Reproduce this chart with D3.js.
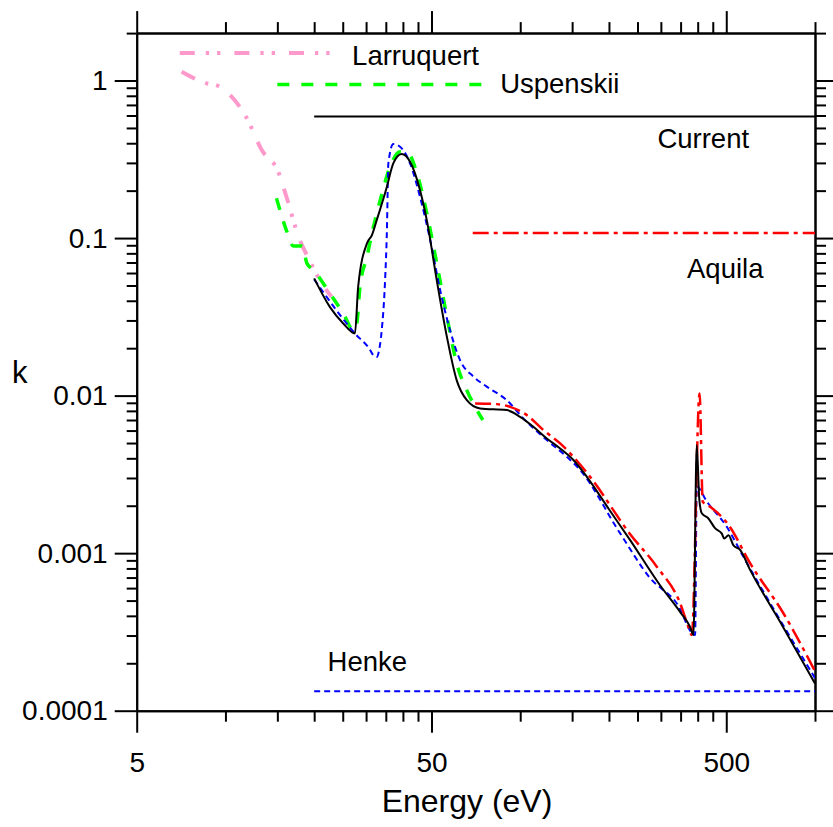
<!DOCTYPE html>
<html><head><meta charset="utf-8">
<script src="https://cdn.jsdelivr.net/npm/d3@7"></script>
<style>
body{margin:0;background:#fff}
svg{display:block}
text{font-family:"Liberation Sans",Arial,Helvetica,sans-serif;fill:#000}
</style>
</head><body>
<svg id="chart" width="833" height="827"></svg>
<script>
// ---------- data (Energy in eV, k dimensionless) ----------
const currentE = [20, 22.6, 25.1, 27.5, 28.2, 30.2, 31.4, 32.6, 35.3, 37.1, 39.6, 42.3, 45.7, 48.2, 52.1, 56.4, 60.9, 65.9, 73.1, 90, 99.9, 110.8, 123.1, 136.6, 151.5, 168.3, 200, 236, 298, 349, 377, 387, 397, 405, 413, 435, 458, 483, 492, 509, 529, 557, 603, 780, 1000];
const currentK = [0.0555, 0.0366, 0.0287, 0.0248, 0.0491, 0.0925, 0.1045, 0.130, 0.212, 0.298, 0.342, 0.305, 0.202, 0.130, 0.0541, 0.0236, 0.0125, 0.00936, 0.00829, 0.00809, 0.00733, 0.00634, 0.00535, 0.00462, 0.0039, 0.00305, 0.0019, 0.00121, 0.000626, 0.000422, 0.00034, 0.000302, 0.00485, 0.0022, 0.00179, 0.00166, 0.00144, 0.00133, 0.00124, 0.0013, 0.00112, 0.00105, 0.00078, 0.000339, 0.000149];

const henkeE = [20, 27.5, 30.95, 31.7, 32.6, 33.3, 33.9, 34.8, 35.3, 35.7, 37.1, 39.1, 42.3, 45.7, 49.5, 53.5, 57.8, 62.5, 69.4, 77, 90, 102.5, 123.1, 143.9, 159.7, 218, 276, 340, 392, 397, 430, 502, 572, 1000];
const henkeK = [0.0547, 0.0248, 0.0195, 0.0181, 0.0176, 0.0200, 0.026, 0.0541, 0.112, 0.298, 0.395, 0.380, 0.298, 0.183, 0.0971, 0.0468, 0.026, 0.0168, 0.0132, 0.0114, 0.00936, 0.00717, 0.00522, 0.00409, 0.00337, 0.00134, 0.000694, 0.000479, 0.000302, 0.00264, 0.00212, 0.00147, 0.000947, 0.000161];

const aquilaE = [70.3, 83.3, 92.4, 105.3, 119.9, 136.6, 151.5, 172.6, 236, 291, 349, 372, 382, 406, 416, 441, 509, 603, 782, 1000];
const aquilaK = [0.00892, 0.00883, 0.00849, 0.00752, 0.00604, 0.00497, 0.00409, 0.00305, 0.00132, 0.000818, 0.000479, 0.00034, 0.000302, 0.01033, 0.00212, 0.00197, 0.00151, 0.00086, 0.000414, 0.000178];

const uspenskiiE = [14.9, 16.1, 17.0, 18.2, 18.9, 19.9, 22.6, 25.1, 27.2, 27.9, 28.6, 30.2, 31.4, 33.5, 36.2, 39.1, 41.7, 44.6, 48.2, 52.1, 56.4, 60.9, 65.9, 70.3, 74.7];
const uspenskiiK = [0.179, 0.112, 0.089, 0.089, 0.0691, 0.0626, 0.0446, 0.0333, 0.026, 0.0287, 0.0491, 0.0761, 0.107, 0.174, 0.284, 0.353, 0.345, 0.258, 0.144, 0.0691, 0.0317, 0.016, 0.0108, 0.00849, 0.0070];

const larruquertE = [7.1, 8.64, 9.46, 10.37, 11.81, 13.28, 15.1, 16.1, 17.7, 19.4, 20.9, 22.9];
const larruquertK = [1.137, 0.96, 0.923, 0.809, 0.578, 0.362, 0.264, 0.183, 0.102, 0.0707, 0.0541, 0.0424];

// data ranges of each source (shown as range bars with labels)
const seriesNames = ["Larruquert", "Uspenskii", "Current", "Aquila", "Henke"];
const rangeStartE = [7.0, 15, 20, 69, 20];
const rangeEndE   = [23.5, 75, 1000, 1000, 1000];

// tick values / labels
const xMajorTicks = [5, 50, 500];
const xMajorLabels = ["5", "50", "500"];
const xMinorTicks = [10, 15, 20, 25, 30, 35, 40, 45, 100, 150, 200, 250, 300, 350, 400, 450, 1000];
const yMajorTicks = [1, 0.1, 0.01, 0.001, 0.0001];
const yMajorLabels = ["1", "0.1", "0.01", "0.001", "0.0001"];
const yMinorTicks = [2];
[0.0001, 0.001, 0.01, 0.1].forEach(d => { for (let m = 2; m <= 9; m++) yMinorTicks.push(+(m * d).toPrecision(3)); });

// ---------- layout / styles ----------
const W = 833, H = 827;
const L = 136.7, R = 815, T = 33.1, B = 710.7;
const x = d3.scaleLog().domain([5, 1000]).range([L, R]);
const y = d3.scaleLog().domain([0.0001, 2]).range([B, T]);

const styles = {
  Larruquert: {color: "#ff99cc", width: 4,   dash: "15,11,3.3,8,3.3,14"},
  Uspenskii:  {color: "#00ff00", width: 3.5, dash: "12,12"},
  Current:    {color: "#000000", width: 2,   dash: null},
  Aquila:     {color: "#ff0000", width: 2.5, dash: "16,5,4,5"},
  Henke:      {color: "#0000ff", width: 2,   dash: "6,4"}
};
// range-bar level (k) and label placement (E, k baseline)
const legendLayout = {
  Larruquert: {k: 1.495,    lx: 26.9, ly: 1.254,    anchor: "start"},
  Uspenskii:  {k: 0.943,    lx: 85.5, ly: 0.839,    anchor: "start"},
  Current:    {k: 0.591,    lx: 292,  ly: 0.3727,   anchor: "start"},
  Aquila:     {k: 0.1076,   lx: 368,  ly: 0.0557,   anchor: "start"},
  Henke:      {k: 0.000133, lx: 22.2, ly: 0.000178, anchor: "start"}
};

const svg = d3.select("#chart");
svg.append("rect").attr("width", W).attr("height", H).attr("fill", "#fff");

// ---------- axes ----------
function styleAxis(g) {
  g.selectAll("path.domain").attr("stroke", "#000").attr("stroke-width", 2);
  g.selectAll(".tick line").attr("stroke", "#000").attr("stroke-width", 2);
  g.selectAll(".tick text").attr("font-size", 28).attr("fill", "#000")
    .attr("font-family", '"Liberation Sans",Arial,sans-serif');
}
// bottom
svg.append("g").attr("transform", `translate(0,${B})`)
  .call(d3.axisBottom(x).tickValues(xMinorTicks).tickSize(11).tickSizeOuter(0).tickFormat(""))
  .call(styleAxis);
svg.append("g").attr("transform", `translate(0,${B})`)
  .call(d3.axisBottom(x).tickValues(xMajorTicks).tickSize(22).tickSizeOuter(0).tickPadding(19)
    .tickFormat((d, i) => xMajorLabels[i]))
  .call(styleAxis);
// top
svg.append("g").attr("transform", `translate(0,${T})`)
  .call(d3.axisTop(x).tickValues(xMinorTicks).tickSize(11).tickSizeOuter(0).tickFormat(""))
  .call(styleAxis);
svg.append("g").attr("transform", `translate(0,${T})`)
  .call(d3.axisTop(x).tickValues(xMajorTicks).tickSize(22).tickSizeOuter(0).tickFormat(""))
  .call(styleAxis);
// left
svg.append("g").attr("transform", `translate(${L},0)`)
  .call(d3.axisLeft(y).tickValues(yMinorTicks).tickSize(10).tickSizeOuter(0).tickFormat(""))
  .call(styleAxis);
svg.append("g").attr("transform", `translate(${L},0)`)
  .call(d3.axisLeft(y).tickValues(yMajorTicks).tickSize(22).tickSizeOuter(0).tickPadding(7)
    .tickFormat((d, i) => yMajorLabels[i]))
  .call(styleAxis);
// right
svg.append("g").attr("transform", `translate(${R},0)`)
  .call(d3.axisRight(y).tickValues(yMinorTicks).tickSize(11).tickSizeOuter(0).tickFormat(""))
  .call(styleAxis);
svg.append("g").attr("transform", `translate(${R},0)`)
  .call(d3.axisRight(y).tickValues(yMajorTicks).tickSize(22).tickSizeOuter(0).tickFormat(""))
  .call(styleAxis);

// axis titles
svg.append("text").attr("x", 467).attr("y", 812).attr("text-anchor", "middle")
  .attr("font-size", 32).text("Energy (eV)");
svg.append("text").attr("x", 12).attr("y", 383).attr("text-anchor", "start")
  .attr("font-size", 31).text("k");

// ---------- curves ----------
svg.append("clipPath").attr("id", "clip").append("rect")
  .attr("x", L).attr("y", T).attr("width", R - L).attr("height", B - T);
const plot = svg.append("g").attr("clip-path", "url(#clip)");

const line = d3.line().x(d => x(d.e)).y(d => y(d.k)).curve(d3.curveMonotoneX);
const series = {
  Larruquert: larruquertE.map((e, i) => ({e, k: larruquertK[i]})),
  Uspenskii:  uspenskiiE.map((e, i) => ({e, k: uspenskiiK[i]})),
  Henke:      henkeE.map((e, i) => ({e, k: henkeK[i]})),
  Aquila:     aquilaE.map((e, i) => ({e, k: aquilaK[i]})),
  Current:    currentE.map((e, i) => ({e, k: currentK[i]}))
};
["Larruquert", "Uspenskii", "Henke", "Aquila", "Current"].forEach(name => {
  const s = styles[name];
  plot.append("path").datum(series[name])
    .attr("fill", "none").attr("stroke", s.color).attr("stroke-width", s.width)
    .attr("stroke-dasharray", s.dash).attr("stroke-linejoin", "round")
    .attr("d", line);
});

// ---------- range bars + labels ----------
seriesNames.forEach((name, i) => {
  const s = styles[name], lay = legendLayout[name];
  plot.append("path")
    .datum([{e: rangeStartE[i], k: lay.k}, {e: rangeEndE[i], k: lay.k}])
    .attr("fill", "none").attr("stroke", s.color).attr("stroke-width", s.width)
    .attr("stroke-dasharray", s.dash)
    .attr("d", d3.line().x(d => x(d.e)).y(d => y(d.k)));
  svg.append("text").attr("x", x(lay.lx)).attr("y", y(lay.ly))
    .attr("text-anchor", lay.anchor).attr("font-size", 27.5).text(name);
});
</script>
</body></html>
